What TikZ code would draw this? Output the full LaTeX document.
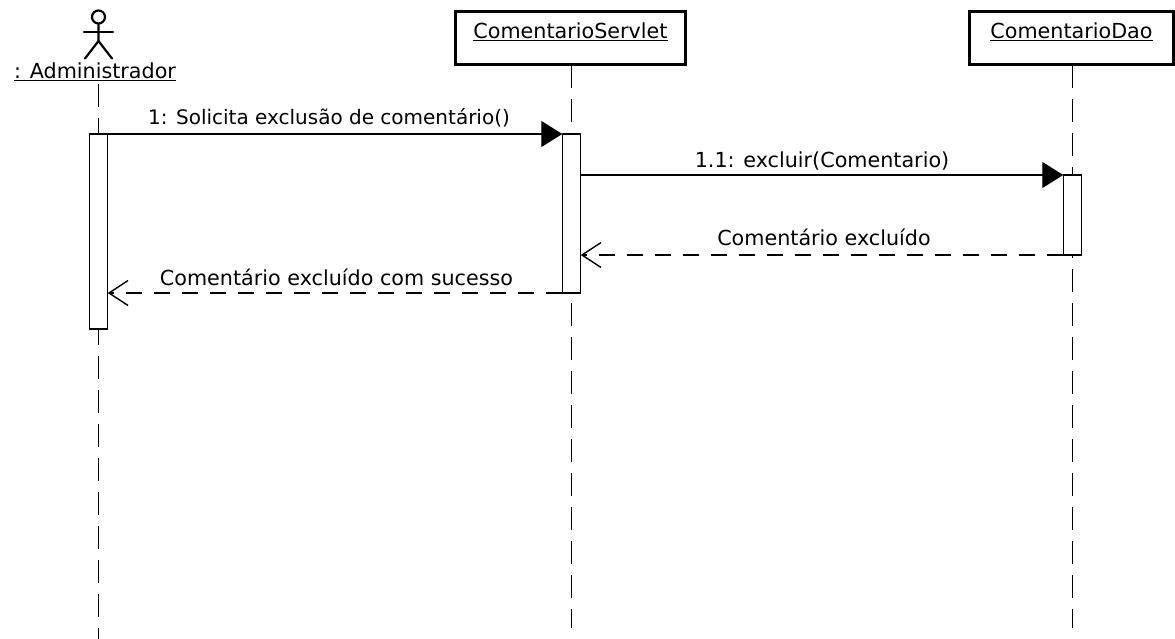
\documentclass[tikz,border=0pt]{standalone}
\usepackage{fontspec}
\setmainfont{DejaVu Sans}
\usetikzlibrary{arrows.meta}
\tikzset{
  objeto/.style={draw,line width=3pt,inner sep=0pt,outer sep=0pt,minimum height=53pt,text height=14pt,text depth=13pt},
  ativacao/.style={draw,fill=white,line width=1.4pt,inner sep=0pt,outer sep=0pt,minimum width=18.5pt},
  rotulo/.style={anchor=base,inner sep=0pt},
  vida/.style={line width=1.4pt,dash pattern=on 23pt off 11pt},
  chamada/.style={line width=1.4pt,-{Triangle[length=21pt,width=26pt]}},
  retorno/.style={line width=1.4pt,dash pattern=on 16pt off 12pt,-{Straight Barb[length=19pt,width=25pt,line width=1.4pt]}},
  boneco/.style={line width=2.2pt,line cap=round}
}
\newcommand{\fonte}{\fontsize{20.7}{24}\selectfont}
\begin{document}
\begin{tikzpicture}[x=1pt,y=-1pt,every node/.append style={font=\fonte}]
  \useasboundingbox (0,0) rectangle (1175,639);
  % objetos
  \path (570.5,38.5) node[objeto,minimum width=230pt] (servlet) {\underline{ComentarioServlet}}
  (1071.5,38.5) node[objeto,minimum width=204pt] (dao) {\underline{ComentarioDao}};
  % ator
  \path (98.5,17) node[draw,circle,line width=2.2pt,inner sep=0pt,minimum size=13pt] (cabeca) {}
  (84,32) coordinate (bracoE) (113,32) coordinate (bracoD) (98.5,41) coordinate (quadril)
  (85,58.5) coordinate (pernaE) (112,58.5) coordinate (pernaD)
  (95,79) node[rotulo] (admin) {\underline{: Administrador}};
  \draw[boneco] (cabeca.south) -- (quadril) -- (pernaE);
  \draw[boneco] (quadril) -- (pernaD);
  \draw[boneco] (bracoE) -- (bracoD);
  % linhas de vida
  \path (98.5,639) coordinate (fimAdmin) (571.5,628) coordinate (fimServlet) (1072.5,628) coordinate (fimDao)
  (98.5,84) coordinate (iniAdmin);
  \draw[vida] (iniAdmin) -- (fimAdmin);
  \draw[vida] (servlet.south -| fimServlet) -- (fimServlet);
  \draw[vida] (dao.south -| fimDao) -- (fimDao);
  % ativacoes
  \path (98.5,231.5) node[ativacao,minimum height=195pt] (atAdmin) {}
  (571.5,213.5) node[ativacao,minimum height=159pt] (atServlet) {}
  (1072.5,215) node[ativacao,minimum height=80pt] (atDao) {};
  % mensagens
  \draw[chamada] (atAdmin.north east) -- (atServlet.north west);
  \draw[chamada] (atServlet.east |- atDao.north) -- (atDao.north west);
  \draw[retorno] (atDao.south west) -- (atServlet.east |- atDao.south);
  \draw[retorno] (atServlet.south west) -- (atAdmin.east |- atServlet.south);
  \path (329,125) node[rotulo,font=\fontsize{20}{24}\selectfont] (msg1) {1: Solicita exclusão de comentário()}
  (822,168) node[rotulo] (msg2) {1.1: excluir(Comentario)}
  (824,245) node[rotulo] (msg3) {Comentário excluído}
  (336.5,285) node[rotulo] (msg4) {Comentário excluído com sucesso};
\end{tikzpicture}
\end{document}
